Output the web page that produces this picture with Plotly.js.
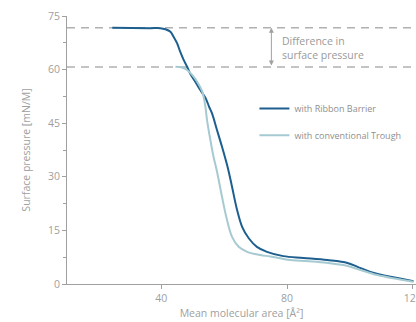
<!DOCTYPE html>
<html><head><meta charset="utf-8">
<script src="https://cdn.plot.ly/plotly-3.0.1.min.js"></script>
<style>html,body{margin:0;padding:0;background:#fff}#chart{width:416px;height:322px}</style>
</head><body><div id="chart"></div>
<script>
var ribbonX = [24.4, 36.5, 39.7, 41.3, 42.9, 43.9, 45.0, 46.0, 47.1, 48.2, 49.2, 50.8, 52.4, 54.0, 55.3, 56.1, 57.7, 59.3, 61.0, 62.3, 64.1, 65.7, 67.8, 70.4, 73.6, 78.8, 85.2, 92.8, 99.2, 102.4, 106.5, 112.9, 120.2];
var ribbonY = [71.7, 71.6, 71.6, 71.3, 70.6, 69.2, 67.4, 65.0, 62.7, 60.8, 58.8, 56.6, 54.3, 52.1, 49.4, 47.8, 43.1, 38.4, 33.0, 28.0, 20.7, 16.0, 12.8, 10.4, 9.0, 7.8, 7.3, 6.7, 5.9, 4.8, 3.4, 2.0, 0.8];
var convX = [44.5, 46.6, 48.2, 49.8, 51.4, 53.0, 53.9, 54.6, 55.6, 56.6, 57.7, 59.3, 60.9, 62.5, 64.6, 67.3, 71.5, 74.7, 81.0, 89.6, 97.9, 102.4, 108.7, 120.2];
var convY = [60.8, 60.6, 59.9, 58.5, 56.6, 53.9, 50.3, 45.5, 40.3, 35.6, 31.5, 24.4, 17.9, 13.2, 10.4, 9.0, 8.1, 7.7, 6.7, 6.2, 5.3, 4.2, 2.5, 0.6];
var levels = [71.7, 60.7];
var yTicks = [0, 15, 30, 45, 60, 75];
var xTicks = [40, 80, 120];
var names = ['with Ribbon Barrier', 'with conventional Trough'];
var noteText = 'Difference in<br>surface pressure';
var noteX = 77.8, noteY = 66.0, arrowX = 75;

var grey = '#a0a0a0';
var traces = [
  {x: ribbonX, y: ribbonY, name: names[0], type: 'scatter', mode: 'lines',
   line: {color: '#1d5f8e', width: 2, shape: 'spline', smoothing: 1}, legend: 'legend'},
  {x: convX, y: convY, name: names[1], type: 'scatter', mode: 'lines',
   line: {color: '#a6cad1', width: 2, shape: 'spline', smoothing: 1}, legend: 'legend2'}
];
var shapes = levels.map(function(v){
  return {type: 'line', xref: 'paper', x0: 0, x1: 1, yref: 'y', y0: v, y1: v,
          line: {color: '#b0b0b0', width: 1.5, dash: '8px,6px'}, layer: 'below'};
});
var legendFont = {family: 'Open Sans', size: 9, color: '#8f8f8f'};
var layout = {
  width: 416, height: 322,
  margin: {l: 67, r: 0, t: 16, b: 38},
  paper_bgcolor: '#fff', plot_bgcolor: '#fff',
  font: {family: 'Open Sans', color: grey, size: 10.5},
  xaxis: {range: [10, 121], tickvals: xTicks, ticks: 'outside', ticklen: 4, tickcolor: grey,
          showline: true, linecolor: grey, linewidth: 1, showgrid: false, zeroline: false,
          ticklabeloverflow: 'allow',
          tickfont: {size: 10.5, color: grey},
          title: {text: 'Mean molecular area [Å²]', font: {size: 10.5, color: grey}, standoff: 6}},
  yaxis: {range: [0, 75], tickvals: yTicks, ticks: 'outside', ticklen: 4, tickcolor: grey,
          showline: true, linecolor: grey, linewidth: 1, showgrid: false, zeroline: false,
          tickfont: {size: 10.5, color: grey},
          minor: {dtick: 7.5, ticks: 'outside', ticklen: 3, tickcolor: grey, showgrid: false},
          title: {text: 'Surface pressure [mN/M]', font: {size: 10.5, color: grey}, standoff: 15}},
  showlegend: true,
  legend: {x: 0.537, y: 0.655, xanchor: 'left', yanchor: 'middle', font: legendFont,
           bgcolor: 'rgba(0,0,0,0)', itemwidth: 30},
  legend2: {x: 0.537, y: 0.555, xanchor: 'left', yanchor: 'middle', font: legendFont,
           bgcolor: 'rgba(0,0,0,0)', itemwidth: 30},
  shapes: shapes,
  annotations: [
    {x: arrowX, y: levels[0], ax: arrowX, ay: levels[1], xref: 'x', yref: 'y', axref: 'x', ayref: 'y',
     text: '', showarrow: true, arrowhead: 2, arrowside: 'end+start', arrowsize: 1, arrowwidth: 1, arrowcolor: grey},
    {x: noteX, y: noteY, xref: 'x', yref: 'y', text: noteText, showarrow: false,
     xanchor: 'left', yanchor: 'middle', align: 'left', font: {family: 'Open Sans', size: 10.5, color: '#9a9a9a'}}
  ]
};
Plotly.newPlot('chart', traces, layout, {displayModeBar: false, staticPlot: true});
</script></body></html>
